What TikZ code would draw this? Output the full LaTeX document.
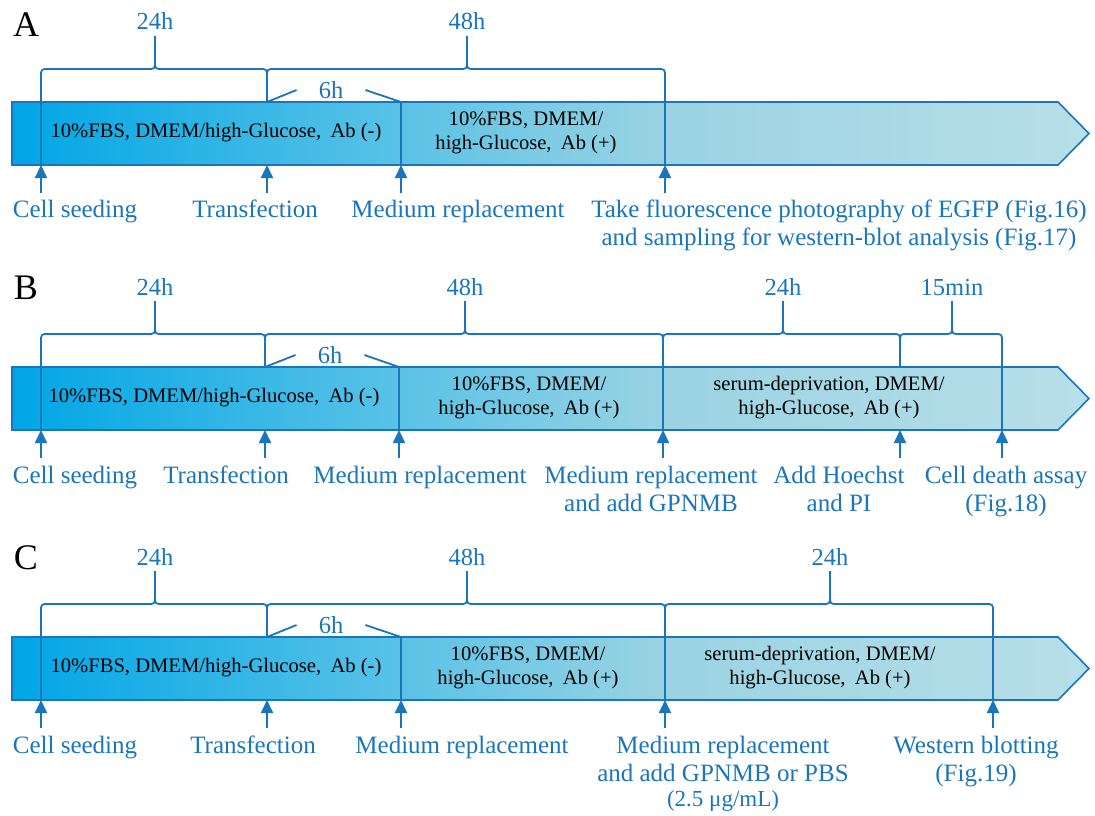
\documentclass[tikz,border=0pt]{standalone}
\usepackage{fontspec}
\setmainfont{Liberation Serif}
\usetikzlibrary{arrows.meta}
\definecolor{lineblue}{RGB}{27,117,188}
\definecolor{barleft}{RGB}{0,166,230}
\definecolor{barmid}{RGB}{90,194,230}
\definecolor{barlate}{RGB}{155,211,226}
\definecolor{barright}{RGB}{184,223,233}
\pgfdeclarehorizontalshading{barfade}{100bp}{color(0bp)=(barleft); color(25bp)=(barleft); color(43bp)=(barmid); color(55.5bp)=(barlate); color(75bp)=(barright); color(100bp)=(barright)}
\tikzset{
  brace/.style={draw=lineblue, line width=1.8pt, line join=round},
  tick/.style={draw=lineblue, line width=1.8pt, -{Triangle[length=13pt,width=12pt]}},
  bar/.style={shade, shading=barfade, draw=lineblue, line width=1.6pt},
  panel/.style={inner sep=0pt, anchor=base, font=\fontsize{36pt}{40pt}\selectfont},
  span/.style={inner sep=0pt, text=lineblue, font=\fontsize{24.5pt}{28pt}\selectfont},
  event/.style={inner sep=0pt, anchor=base, align=center, text=lineblue, font=\fontsize{25pt}{28pt}\selectfont},
  medium/.style={inner sep=0pt, align=center, font=\fontsize{20.6pt}{24pt}\selectfont}
}
% brace from #1 to #2 with its peak at #3
\newcommand{\spanbrace}[3]{%
  \draw[brace] (#1,102) -- (#1,77) .. controls (#1,69) .. (#1+8,69) -- (#3-8,69) .. controls (#3,69) .. (#3,61) -- (#3,36);
  \draw[brace] (#3,61) .. controls (#3,69) .. (#3+8,69) -- (#2-8,69) .. controls (#2,69) .. (#2,77) -- (#2,102);
}
\newcommand{\timebar}{%
  \path[bar] (12,102) -- (1058,102) -- (1089,133.5) -- (1058,165) -- (12,165) -- cycle;
}
\begin{document}
\begin{tikzpicture}[x=1pt,y=-1pt]
\useasboundingbox (0,0) rectangle (1095,816);

% A
\begin{scope}[name prefix=A-]
  \node[panel] (tag) at (26,37) {A};
  \timebar
  \spanbrace{41}{267}{155}
  \spanbrace{267}{665}{467}
  \node[span, anchor=base] (h24) at (155,30) {24h};
  \node[span, anchor=base] (h48) at (467,30) {48h};
  \node[span, inner xsep=22pt] (h6) at (331,90) {6h};
  \draw[brace] (267,102) -- (h6.west);
  \draw[brace] (h6.east) -- (401,102);
  \foreach \x in {41,401,665} \draw[brace] (\x,102) -- (\x,165);
  \node[medium] (plain) at (216,133) {10\%FBS, DMEM/high-Glucose,\hspace{.45em}Ab (-)};
  \node[medium] (anti) at (526,133) {10\%FBS, DMEM/\\high-Glucose,\hspace{.45em}Ab (+)};
  \foreach \x [count=\i] in {41,267,401,665} {
    \coordinate (foot\i) at (\x,193);
    \coordinate (tip\i) at (\x,165);
    \draw[tick] (foot\i) -- (tip\i);
  }
  \node[event] (seed) at (75,217) {Cell seeding};
  \node[event] (trans) at (255,217) {Transfection};
  \node[event] (medium) at (458,217) {Medium replacement};
  \node[event] (photo) at (839,245) {Take fluorescence photography of EGFP (Fig.16)\\and sampling for western-blot analysis (Fig.17)};
\end{scope}

% B
\begin{scope}[shift={(0,265)}, name prefix=B-]
  \node[panel] (tag) at (26,34) {B};
  \timebar
  \spanbrace{41}{265}{155}
  \spanbrace{265}{663}{465}
  \spanbrace{663}{900}{783}
  \spanbrace{900}{1002}{952}
  \node[span, anchor=base] (h24) at (155,30) {24h};
  \node[span, anchor=base] (h48) at (465,30) {48h};
  \node[span, anchor=base] (h24b) at (783,30) {24h};
  \node[span, anchor=base] (m15) at (952,30) {15min};
  \node[span, inner xsep=22pt] (h6) at (330,90) {6h};
  \draw[brace] (265,102) -- (h6.west);
  \draw[brace] (h6.east) -- (399,102);
  \foreach \x in {41,399,663,1002} \draw[brace] (\x,102) -- (\x,165);
  \node[medium] (plain) at (214,133) {10\%FBS, DMEM/high-Glucose,\hspace{.45em}Ab (-)};
  \node[medium] (anti) at (529,133) {10\%FBS, DMEM/\\high-Glucose,\hspace{.45em}Ab (+)};
  \node[medium] (serum) at (829,133) {serum-deprivation, DMEM/\\high-Glucose,\hspace{.45em}Ab (+)};
  \foreach \x [count=\i] in {41,265,399,663,900,1002} {
    \coordinate (foot\i) at (\x,193);
    \coordinate (tip\i) at (\x,165);
    \draw[tick] (foot\i) -- (tip\i);
  }
  \node[event] (seed) at (75,218) {Cell seeding};
  \node[event] (trans) at (226,218) {Transfection};
  \node[event] (medium) at (420,218) {Medium replacement};
  \node[event] (gpnmb) at (651,246) {Medium replacement\\and add GPNMB};
  \node[event] (stain) at (839,246) {Add Hoechst\\and PI};
  \node[event] (death) at (1006,246) {Cell death assay\\(Fig.18)};
\end{scope}

% C
\begin{scope}[shift={(0,535)}, name prefix=C-]
  \node[panel] (tag) at (26,34) {C};
  \timebar
  \spanbrace{41}{267}{155}
  \spanbrace{267}{665}{467}
  \spanbrace{665}{993}{830}
  \node[span, anchor=base] (h24) at (155,30) {24h};
  \node[span, anchor=base] (h48) at (467,30) {48h};
  \node[span, anchor=base] (h24b) at (830,30) {24h};
  \node[span, inner xsep=22pt] (h6) at (331,90) {6h};
  \draw[brace] (267,102) -- (h6.west);
  \draw[brace] (h6.east) -- (401,102);
  \foreach \x in {41,401,665,993} \draw[brace] (\x,102) -- (\x,165);
  \node[medium] (plain) at (216,133) {10\%FBS, DMEM/high-Glucose,\hspace{.45em}Ab (-)};
  \node[medium] (anti) at (528,133) {10\%FBS, DMEM/\\high-Glucose,\hspace{.45em}Ab (+)};
  \node[medium] (serum) at (820,133) {serum-deprivation, DMEM/\\high-Glucose,\hspace{.45em}Ab (+)};
  \foreach \x [count=\i] in {41,267,401,665,993} {
    \coordinate (foot\i) at (\x,193);
    \coordinate (tip\i) at (\x,165);
    \draw[tick] (foot\i) -- (tip\i);
  }
  \node[event] (seed) at (75,218) {Cell seeding};
  \node[event] (trans) at (253,218) {Transfection};
  \node[event] (medium) at (462,218) {Medium replacement};
  \node[event] (gpnmb) at (723,271) {Medium replacement\\and add GPNMB or PBS\\[-3pt]{\fontsize{23pt}{25pt}\selectfont(2.5 μg/mL)}};
  \node[event] (blot) at (976,246) {Western blotting\\(Fig.19)};
\end{scope}
\end{tikzpicture}
\end{document}
